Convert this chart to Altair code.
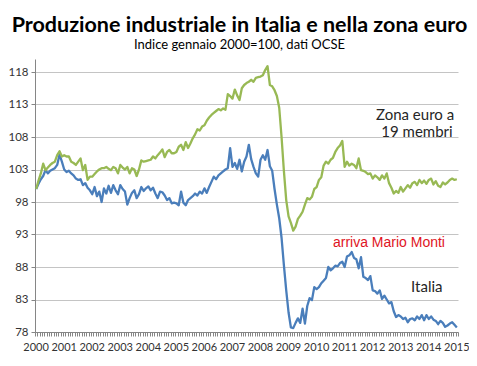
import altair as alt
import pandas as pd

# Monthly index values (Jan 2000 = 100), Jan 2000 .. Jan 2015
italia = (
    [100.0, 100.8, 101.5, 102.0, 102.9, 102.4, 102.8, 103.0, 103.2, 103.7, 105.3, 104.2]  # 2000
    + [103.0, 102.6, 102.8, 102.4, 102.1, 101.6, 101.4, 101.5, 100.6, 100.9, 100.2, 99.8]  # 2001
    + [99.2, 100.3, 98.9, 99.6, 98.0, 100.1, 99.3, 100.5, 99.4, 100.6, 99.8, 99.2]  # 2002
    + [100.6, 100.0, 99.6, 97.6, 98.6, 99.4, 99.8, 98.6, 99.2, 100.3, 99.7, 100.1]  # 2003
    + [100.4, 99.8, 100.2, 99.3, 98.6, 99.6, 99.5, 99.0, 98.3, 98.6, 97.8, 97.9]  # 2004
    + [97.8, 97.5, 99.6, 97.9, 97.5, 98.3, 98.6, 98.9, 99.3, 99.0, 99.6, 99.3]  # 2005
    + [100.1, 99.4, 100.3, 101.1, 101.9, 101.5, 102.1, 102.4, 102.7, 103.0, 103.2, 106.3]  # 2006
    + [103.4, 104.0, 103.1, 104.5, 102.7, 104.2, 105.0, 106.8, 104.6, 103.4, 102.4, 101.9]  # 2007
    + [104.5, 105.2, 104.5, 106.0, 103.5, 102.8, 100.0, 97.6, 95.5, 92.5, 88.3, 84.4]  # 2008
    + [81.0, 78.7, 78.6, 79.4, 80.1, 79.4, 81.6, 79.3, 82.0, 83.2, 82.9, 84.9]  # 2009
    + [84.6, 84.9, 85.5, 85.9, 86.3, 88.0, 87.5, 87.8, 88.2, 88.1, 88.6, 88.8]  # 2010
    + [88.0, 89.6, 89.8, 90.3, 89.4, 89.2, 87.8, 89.5, 86.5, 86.3, 86.0, 86.6]  # 2011
    + [84.4, 84.3, 83.9, 84.4, 83.1, 83.6, 83.0, 82.4, 82.6, 81.2, 80.3, 80.6]  # 2012
    + [80.4, 80.0, 80.2, 79.5, 80.0, 80.1, 79.8, 80.4, 80.0, 80.6, 79.8, 80.6]  # 2013
    + [80.0, 80.4, 79.9, 79.7, 79.2, 79.7, 79.4, 78.8, 79.0, 79.3, 79.5, 79.1]  # 2014
    + [78.7]  # 2015
)

zona_euro = (
    [100.0, 101.3, 102.4, 103.9, 102.9, 103.3, 103.7, 104.0, 104.2, 105.2, 105.8, 105.0]  # 2000
    + [105.2, 105.0, 105.0, 104.2, 104.0, 103.7, 104.2, 104.7, 102.9, 103.7, 101.4, 101.9]  # 2001
    + [101.9, 102.3, 102.7, 103.0, 103.2, 103.2, 103.4, 103.1, 102.9, 103.4, 103.2, 102.4]  # 2002
    + [103.7, 103.3, 103.0, 103.4, 102.4, 103.2, 103.0, 102.0, 103.0, 104.4, 104.2, 104.3]  # 2003
    + [104.4, 104.5, 105.0, 104.7, 105.2, 105.6, 106.1, 104.9, 105.7, 106.0, 105.5, 105.5]  # 2004
    + [105.7, 106.5, 106.8, 106.0, 107.2, 106.3, 107.0, 107.8, 108.4, 109.2, 109.0, 109.6]  # 2005
    + [109.8, 110.5, 111.0, 111.4, 111.7, 112.0, 112.3, 112.1, 112.4, 112.2, 114.6, 114.3]  # 2006
    + [113.9, 115.3, 114.4, 113.7, 115.5, 116.0, 116.3, 116.5, 116.8, 116.5, 117.1, 117.2]  # 2007
    + [117.3, 117.5, 118.3, 118.9, 116.0, 115.8, 115.2, 114.3, 112.5, 108.0, 102.8, 98.3]  # 2008
    + [95.8, 94.8, 93.6, 94.2, 95.4, 95.9, 96.5, 97.6, 98.6, 98.4, 98.8, 100.0]  # 2009
    + [100.3, 101.4, 101.8, 103.6, 104.2, 103.9, 104.5, 104.8, 105.7, 106.3, 106.7, 107.4]  # 2010
    + [103.4, 104.2, 103.6, 103.9, 103.7, 103.2, 104.7, 102.9, 102.8, 102.6, 102.3, 102.4]  # 2011
    + [101.6, 102.1, 101.8, 101.4, 102.1, 101.6, 102.4, 100.9, 100.2, 99.3, 99.7, 99.4]  # 2012
    + [100.3, 99.6, 100.1, 100.6, 100.2, 100.9, 101.1, 100.6, 101.4, 100.9, 101.3, 100.8]  # 2013
    + [101.4, 101.6, 100.7, 101.2, 100.5, 100.3, 101.0, 100.7, 101.0, 101.4, 101.6, 101.4]  # 2014
    + [101.5]  # 2015
)

series_names = ["Italia", "Zona euro"]
series_colors = ["#4A7EBB", "#98B954"]
y_ticks = [78, 83, 88, 93, 98, 103, 108, 113, 118]
first_year = 2000
last_year = 2015

n = len(italia)
t = [first_year + i / 12 for i in range(n)]
df = pd.DataFrame({"t": t, "Italia": italia, "Zona euro": zona_euro})
long = df.melt("t", var_name="serie", value_name="indice")

# Category boundaries (monthly tick marks, Excel-style)
month_bounds = [first_year + (k - 0.5) / 12 for k in range(n + 1)]
x_domain = [month_bounds[0], month_bounds[-1]]

FONT = "Lato"
AX = "#868686"

x_scale = alt.Scale(domain=x_domain, nice=False, zero=False)
y_scale = alt.Scale(domain=[78, 120], nice=False, zero=False)

x_axis = alt.Axis(
    values=month_bounds,
    labelExpr="round((datum.value - 2000) * 12 + 0.5) % 12 == 0 ? '' + round(datum.value) : ''",
    labelOverlap=False,
    labelFlush=False,
    labelBound=False,
    labelOffset=0.6,
    tickSize=4,
    tickColor=AX,
    domainColor=AX,
    grid=False,
    labelFont=FONT,
    labelFontSize=11,
    labelColor="#333333",
    labelPadding=5,
)
y_axis = alt.Axis(
    values=y_ticks,
    grid=True,
    gridColor="#C4C4C4",
    gridWidth=1,
    tickSize=4,
    tickColor=AX,
    domainColor=AX,
    labelFont=FONT,
    labelFontSize=11.5,
    labelColor="#333333",
    labelPadding=3,
    labelOverlap=False,
)


def xy():
    return dict(
        x=alt.X("t:Q", title=None, scale=x_scale, axis=x_axis),
        y=alt.Y("indice:Q", title=None, scale=y_scale, axis=y_axis),
    )


lines = alt.Chart(long).mark_line(strokeWidth=2.3, strokeJoin="round").encode(
    color=alt.Color(
        "serie:N",
        scale=alt.Scale(domain=series_names, range=series_colors),
        legend=None,
    ),
    **xy(),
)

ann_text = ["Zona euro a", "19 membri", "Italia"]
ann_t = [2013.51, 2013.58, 2013.93]
ann_v = [111.4, 108.8, 84.97]
ann = alt.Chart(pd.DataFrame({"text": ann_text, "t": ann_t, "indice": ann_v})).mark_text(
    font=FONT, fontSize=15, color="#262626", align="center", baseline="middle"
).encode(text="text:N", **xy())

monti = alt.Chart(
    pd.DataFrame({"text": ["arriva Mario Monti"], "t": [2012.58], "indice": [91.65]})
).mark_text(
    font="Liberation Sans", fontSize=14, color="#E0141E", align="center", baseline="middle"
).encode(text="text:N", **xy())

chart = (
    alt.layer(lines, ann, monti)
    .properties(
        width=423,
        height=273,
        padding={"left": 27, "top": 51, "right": 11, "bottom": 26},
        autosize=alt.AutoSizeParams(type="none"),
        title=alt.TitleParams(
            text="Produzione industriale in Italia e nella zona euro",
            subtitle="Indice gennaio 2000=100, dati OCSE",
            font=FONT,
            fontSize=21.5,
            fontWeight="bold",
            color="#000000",
            subtitleFont=FONT,
            subtitleFontSize=13,
            subtitleColor="#000000",
            subtitlePadding=3,
            anchor="middle",
            frame="group",
            dx=-7,
            offset=7,
        ),
        background="white",
    )
    .configure_view(stroke=None)
)

chart.save("out.html", embed_options={"renderer": "svg", "actions": False})
